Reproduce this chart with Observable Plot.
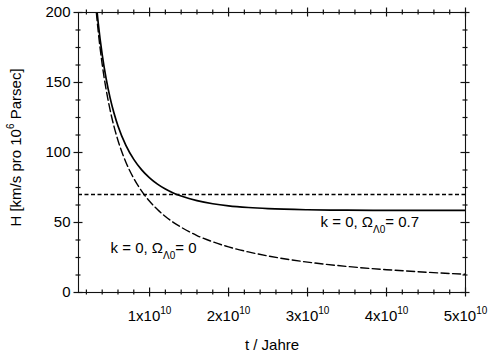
<!DOCTYPE html>
<html><head><meta charset="utf-8">
<script src="https://cdn.jsdelivr.net/npm/d3@7"></script>
<script src="https://cdn.jsdelivr.net/npm/@observablehq/plot@0.6"></script>
<style>
body{margin:0;background:#fff}
svg{display:block}
</style>
</head><body><div id="chart"></div>
<script>
// Solid curve: k = 0, Omega_Lambda0 = 0.7 (t in years, H in km/s per 10^6 parsec)
const tSolid = [3.36e9, 3.5e9, 4e9, 4.5e9, 5e9, 5.5e9, 6e9, 7e9, 8e9, 9e9, 1e10, 1.1e10, 1.2e10, 1.3e10, 1.4e10, 1.6e10, 1.8e10, 2e10, 2.25e10, 2.5e10, 3e10, 3.5e10, 4e10, 4.5e10, 5e10];
const hSolid = [200, 192.3, 169.9, 152.7, 139.0, 128.0, 119.0, 105.1, 95.1, 87.6, 81.9, 77.4, 73.9, 71.1, 68.9, 65.6, 63.4, 61.9, 60.7, 59.9, 59.1, 58.8, 58.7, 58.6, 58.6];
// Dashed curve: k = 0, Omega_Lambda0 = 0
const tDashed = [3.26e9, 3.5e9, 4e9, 4.5e9, 5e9, 5.5e9, 6e9, 7e9, 8e9, 9e9, 1e10, 1.1e10, 1.2e10, 1.3e10, 1.4e10, 1.6e10, 1.8e10, 2e10, 2.25e10, 2.5e10, 3e10, 3.5e10, 4e10, 4.5e10, 5e10];
const hDashed = [200, 186.3, 163.0, 144.9, 130.4, 118.5, 108.6, 93.1, 81.5, 72.4, 65.2, 59.3, 54.3, 50.1, 46.6, 40.7, 36.2, 32.6, 29.0, 26.1, 21.7, 18.6, 16.3, 14.5, 13.0];
// Present-day Hubble constant (short-dashed line)
const hToday = [70];

// Axes
const xDomain = [1e9, 5e10];
const yDomain = [0, 200];
const xMajorTicks = [1e10, 2e10, 3e10, 4e10, 5e10];
const xTickLabels = ["1x10", "2x10", "3x10", "4x10", "5x10"];
const xMinorTicks = [2e9, 4e9, 6e9, 8e9, 1.2e10, 1.4e10, 1.6e10, 1.8e10, 2.2e10, 2.4e10, 2.6e10, 2.8e10, 3.2e10, 3.4e10, 3.6e10, 3.8e10, 4.2e10, 4.4e10, 4.6e10, 4.8e10];
const yMajorTicks = [0, 50, 100, 150, 200];
const yMinorTicks = [12.5, 25, 37.5, 62.5, 75, 87.5, 112.5, 125, 137.5, 162.5, 175, 187.5];

// Annotations
const annotX = [3.165e10, 0.506e10];
const annotY = [50, 31.4];
const annotText = ["k = 0, ΩΛ0= 0.7", "k = 0, ΩΛ0= 0"];
const xTitle = "t / Jahre";
const yTitle = "H [km/s pro 10^6 Parsec]";

const solid = tSolid.map((t, i) => ({t, h: hSolid[i]}));
const dashed = tDashed.map((t, i) => ({t, h: hDashed[i]}));
const annots = annotX.map((x, i) => ({x, y: annotY[i], text: annotText[i]}));
const xLabelMap = new Map(xMajorTicks.map((v, i) => [v, xTickLabels[i]]));

const W = 500, H = 363, ML = 78, MR = 35, MT = 12, MB = 71;
const innerW = W - ML - MR, innerH = H - MT - MB;
const MAJ = 4.5, MIN = 2.5; // half-lengths of ticks that cross the frame
const tickStyle = {stroke: "#111", strokeWidth: 1.2, strokeLinecap: "butt"};

const chart = Plot.plot({
  width: W,
  height: H,
  marginLeft: ML,
  marginRight: MR,
  marginTop: MT,
  marginBottom: MB,
  style: {fontFamily: "'Liberation Sans', Arial, sans-serif", fontSize: "15px", color: "black", background: "white"},
  x: {domain: xDomain, axis: null},
  y: {domain: yDomain, axis: null},
  marks: [
    Plot.ruleY(hToday, {stroke: "black", strokeWidth: 1.5, strokeDasharray: "4,2.5"}),
    Plot.line(dashed, {x: "t", y: "h", curve: "monotone-x", stroke: "black", strokeWidth: 1.4, strokeDasharray: "8,3.5", clip: true}),
    Plot.line(solid, {x: "t", y: "h", curve: "monotone-x", stroke: "black", strokeWidth: 1.7, clip: true}),
    Plot.frame({stroke: "#111", strokeWidth: 1.1}),
    // ticks crossing the frame on all four sides
    Plot.ruleX(xMajorTicks, {...tickStyle, insetTop: innerH - MAJ, insetBottom: -MAJ}),
    Plot.ruleX(xMajorTicks, {...tickStyle, insetTop: -MAJ, insetBottom: innerH - MAJ}),
    Plot.ruleX(xMinorTicks, {...tickStyle, insetTop: innerH - MIN, insetBottom: -MIN}),
    Plot.ruleX(xMinorTicks, {...tickStyle, insetTop: -MIN, insetBottom: innerH - MIN}),
    Plot.ruleY(yMajorTicks, {...tickStyle, insetLeft: -MAJ, insetRight: innerW - MAJ}),
    Plot.ruleY(yMajorTicks, {...tickStyle, insetLeft: innerW - MAJ, insetRight: -MAJ}),
    Plot.ruleY(yMinorTicks, {...tickStyle, insetLeft: -MIN, insetRight: innerW - MIN}),
    Plot.ruleY(yMinorTicks, {...tickStyle, insetLeft: innerW - MIN, insetRight: -MIN}),
    // tick labels
    Plot.axisX(xMajorTicks, {anchor: "bottom", tickSize: 0, tickPadding: 18, tickFormat: d => xLabelMap.get(d), label: null}),
    Plot.axisY(yMajorTicks, {anchor: "left", tickSize: 0, tickPadding: 8, tickFormat: d => String(d), label: null}),
    // titles
    Plot.text([xTitle], {frameAnchor: "bottom", text: d => d, textAnchor: "middle", lineAnchor: "middle", dy: 53, fill: "black"}),
    Plot.text([yTitle], {frameAnchor: "left", text: d => d, rotate: -90, textAnchor: "middle", lineAnchor: "middle", dx: -62, dy: -5, fill: "black"}),
    // annotations
    Plot.text(annots, {x: "x", y: "y", text: "text", textAnchor: "start", lineAnchor: "middle", fill: "black"})
  ]
});

// rich text: superscripts / subscripts as tspans
function rich(el, parts) {
  const sel = d3.select(el);
  sel.text(null);
  let shift = 0;
  parts.forEach(p => {
    const ts = sel.append("tspan").text(p.t);
    const target = p.sup ? p.sup : p.sub ? p.sub : 0;
    if (p.size) ts.attr("font-size", p.size);
    if (target !== shift) ts.attr("dy", target - shift);
    shift = target;
  });
}
d3.select(chart).selectAll("text").each(function() {
  const s = this.textContent;
  if (/^\dx10$/.test(s)) {
    rich(this, [{t: s}, {t: "10", sup: -7, size: 10}]);
  } else if (s.startsWith("k = 0, Ω")) {
    const [a, b] = s.split("Λ0");
    rich(this, [{t: a}, {t: "Λ0", sub: 6, size: 10}, {t: b}]);
  } else if (s.includes("10^6")) {
    const [a, b] = s.split("10^6");
    rich(this, [{t: a + "10"}, {t: "6", sup: -7, size: 10}, {t: b}]);
  }
});
document.getElementById("chart").appendChild(chart);
</script>
</body></html>
